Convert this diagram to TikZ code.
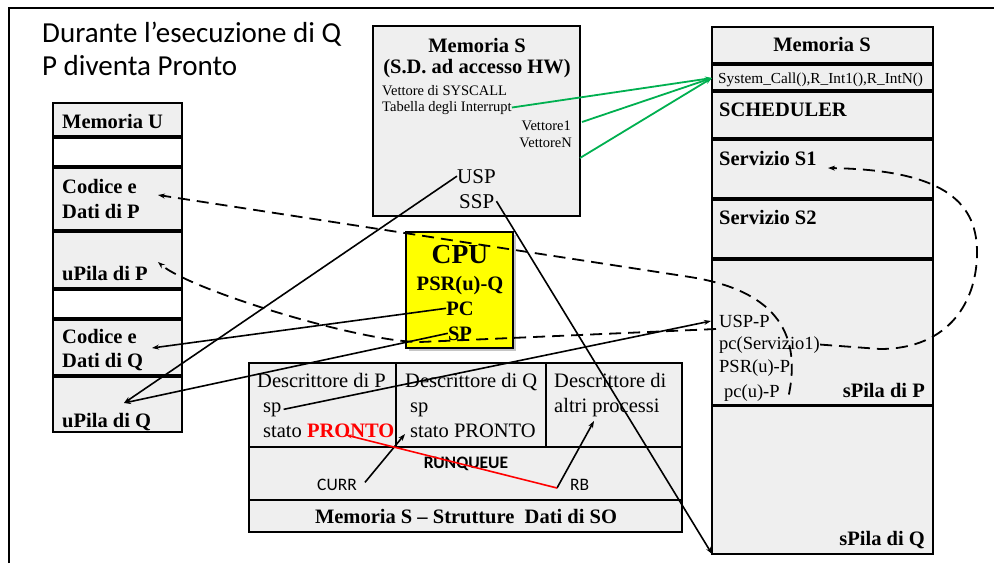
\documentclass[tikz,border=0pt]{standalone}
\usepackage{fontspec}
\setmainfont{Liberation Serif}
\newfontfamily\calib{Carlito}
\usetikzlibrary{arrows.meta}
\definecolor{boxgray}{HTML}{EFEFEF}
\definecolor{grn}{HTML}{00B050}
\definecolor{cpuyel}{HTML}{FFFF00}
\begin{document}
\begin{tikzpicture}[x=1pt,y=-1pt,
  cell/.style={draw, line width=1.6pt, fill=boxgray, inner sep=0pt, outer sep=0pt, anchor=north west},
  txt/.style={inner sep=0pt, anchor=base west},
  bl/.style={font=\fontsize{20.5}{24}\selectfont\bfseries},
  rg/.style={font=\fontsize{20.5}{24}\selectfont},
  sm/.style={font=\fontsize{14.5}{17}\selectfont},
  md/.style={font=\fontsize{18.5}{21}\selectfont},
  cal/.style={font=\calib\fontsize{17.5}{20}\selectfont},
  arr/.style={line width=1.6pt, -{Stealth[length=7pt,width=5pt]}},
  darr/.style={line width=1.8pt, dash pattern=on 12pt off 7pt, -{Stealth[length=7pt,width=5pt]}},
  garr/.style={line width=1.8pt, draw=grn, -{Stealth[length=7pt,width=5pt]}},
  rarr/.style={line width=1.6pt, draw=red, -{Stealth[length=6pt,width=4pt]}}
]
\useasboundingbox (0,0) rectangle (994,563);
\fill[white] (0,0) rectangle (994,563);
% frame
\draw[line width=2pt] (9,563) -- (9,8) -- (994,8);

% title
\node[txt, font=\calib\fontsize{29}{34}\selectfont] (t1) at (42,42) {Durante l’esecuzione di Q};
\node[txt, font=\calib\fontsize{29}{34}\selectfont] (t2) at (42,75) {P diventa Pronto};

% left column: Memoria U
\node[cell, minimum width=129pt, minimum height=33pt] (mu) at (53,103) {};
\node[cell, fill=white, minimum width=129pt, minimum height=28pt] (w1) at (53,138) {};
\node[cell, minimum width=129pt, minimum height=62pt] (codp) at (53,168) {};
\node[cell, minimum width=129pt, minimum height=56pt] (upp) at (53,232) {};
\node[cell, fill=white, minimum width=129pt, minimum height=28pt] (w2) at (53,290) {};
\node[cell, minimum width=129pt, minimum height=55pt] (codq) at (53,320) {};
\node[cell, minimum width=129pt, minimum height=55pt] (upq) at (53,377) {};
\node[txt, bl] (lmu) at (62,128) {Memoria U};
\node[txt, bl] (lcp1) at (62,193) {Codice e};
\node[txt, bl] (lcp2) at (62,218) {Dati di P};
\node[txt, bl] (lup) at (62,280) {uPila di P};
\node[txt, bl] (lcq1) at (62,343) {Codice e};
\node[txt, bl] (lcq2) at (62,367) {Dati di Q};
\node[txt, bl] (luq) at (62,427) {uPila di Q};

% top Memoria S
\node[cell, minimum width=207pt, minimum height=190pt] (mst) at (373,26) {};
\node[inner sep=0pt, anchor=base, bl] (mst1) at (477,52) {Memoria S};
\node[inner sep=0pt, anchor=base, bl] (mst2) at (477,73) {(S.D. ad accesso HW)};
\node[txt, sm] (vsys) at (382,95) {Vettore di SYSCALL};
\node[txt, sm] (tab) at (382,111) {Tabella degli Interrupt};
\node[inner sep=0pt, anchor=base east, sm] (v1) at (571,130) {Vettore1};
\node[inner sep=0pt, anchor=base east, sm] (vn) at (572,147) {VettoreN};
\node[txt, font=\fontsize{21}{24}\selectfont] (usp) at (457,183) {USP};
\node[txt, font=\fontsize{21}{24}\selectfont] (ssp) at (459,208) {SSP};

% CPU
\fill[gray!45] (409,235) rectangle (516,351);
\node[cell, fill=cpuyel, line width=1.9pt, minimum width=107pt, minimum height=116pt] (cpu) at (406,232) {};
\node[inner sep=0pt, anchor=base, font=\fontsize{27.5}{30}\selectfont\bfseries] (cpul) at (460,263) {CPU};
\node[inner sep=0pt, anchor=base, bl] (psrq) at (460,290) {PSR(u)-Q};
\node[inner sep=0pt, anchor=base, bl] (pc) at (460,315) {PC};
\node[inner sep=0pt, anchor=base, bl] (sp) at (460,340) {SP};

% descriptor table
\node[cell, minimum width=147pt, minimum height=84pt] (dp) at (249,363) {};
\node[cell, minimum width=150pt, minimum height=84pt] (dq) at (396,363) {};
\node[cell, minimum width=136pt, minimum height=84pt] (da) at (546,363) {};
\node[cell, minimum width=433pt, minimum height=53pt] (rq) at (249,447) {};
\node[cell, minimum width=433pt, minimum height=32pt] (mss) at (249,500) {};
\node[txt, rg] (dpl) at (257,387) {Descrittore di P};
\node[txt, rg] (spp) at (263,412) {sp};
\node[txt, rg] (stp) at (263,437) {stato \textcolor{red}{\textbf{PRONTO}}};
\node[txt, rg] (dql) at (405,387) {Descrittore di Q};
\node[txt, rg] (spq) at (410,412) {sp};
\node[txt, rg] (stq) at (410,437) {stato PRONTO};
\node[txt, rg] (dal1) at (554,387) {Descrittore di};
\node[txt, rg] (dal2) at (554,412) {altri processi};
\node[inner sep=0pt, anchor=base, font=\calib\bfseries\fontsize{17.5}{20}\selectfont] (rql) at (466,468) {RUNQUEUE};
\node[txt, cal] (curr) at (317,490) {CURR};
\node[txt, cal] (rb) at (570,490) {RB};
\node[inner sep=0pt, anchor=base, bl] (mssl) at (466,523) {Memoria S -- Strutture\ \ Dati di SO};

% right column
\node[cell, minimum width=221pt, minimum height=36pt] (rsh) at (712,27) {};
\node[cell, minimum width=221pt, minimum height=25pt] (rsys) at (712,65) {};
\node[cell, minimum width=221pt, minimum height=46pt] (rsch) at (712,92) {};
\node[cell, minimum width=221pt, minimum height=58pt] (rs1) at (712,140) {};
\node[cell, minimum width=221pt, minimum height=58pt] (rs2) at (712,200) {};
\node[cell, minimum width=221pt, minimum height=145pt] (rsp) at (712,260) {};
\node[cell, minimum width=221pt, minimum height=148pt] (rsq) at (712,406) {};
\node[inner sep=0pt, anchor=base, bl] (rshl) at (822,51) {Memoria S};
\node[txt, font=\fontsize{15.3}{17}\selectfont] (sysl) at (718,83) {System\_Call(),R\_Int1(),R\_IntN()};
\node[txt, bl] (schl) at (719,116) {SCHEDULER};
\node[txt, bl] (s1l) at (719,165) {Servizio S1};
\node[txt, bl] (s2l) at (719,224) {Servizio S2};
\node[txt, md] (uspp) at (719,327) {USP-P};
\node[txt, md] (psv) at (719,349) {pc(Servizio1)};
\node[txt, md] (psrp) at (719,372) {PSR(u)-P};
\node[txt, md] (pcu) at (724,397) {pc(u)-P};
\node[inner sep=0pt, anchor=base east, bl] (spl) at (925,397) {sPila di P};
\node[inner sep=0pt, anchor=base east, bl] (sql) at (925,545) {sPila di Q};

% named end points
\coordinate (codpT) at (158,195);
\coordinate (uppT) at (158,262);
\coordinate (codqT) at (152,348);
\coordinate (upqT) at (124,403);
\coordinate (usppT) at (711,321);
\coordinate (s1T) at (828,168);
\coordinate (sysT) at (712,78);
\coordinate (dqT) at (405,434);
\coordinate (daT) at (594,421);
\coordinate (pronT) at (346,435);
\coordinate (rbS) at (557,488);
\coordinate (v1S) at (582,122);
\coordinate (vnS) at (580,158);
\coordinate (d2S) at (716,329);

% green connectors
\draw[garr] (tab.east) -- (sysT);
\draw[garr] (v1S) -- (sysT);
\draw[garr] (vnS) -- (sysT);

% solid connectors
\draw[arr] (usp.west) -- (upqT);
\draw[arr] ([xshift=2pt]ssp.east) -- (rsq.south west);
\draw[arr] (pc.west) -- (codqT);
\draw[arr] (sp.west) -- (upqT);
\draw[arr] ([xshift=2pt]spp.east) -- (usppT);
\draw[arr] ([xshift=8pt,yshift=2pt]curr.east) -- (dqT);
\draw[arr] (rbS) -- (daT);
\draw[rarr] (rbS) -- (pronT);

% dashed connectors
\draw[darr] ([xshift=9pt,yshift=-2pt]pcu.east) .. controls (802,330) and (772,290) .. (690,277) -- (codpT);
\draw[darr] (d2S) -- (420,342) .. controls (360,342) and (190,290) .. (uppT);
\draw[darr] (psv.east) -- (880,349) .. controls (950,349) and (978,300) .. (977,250) .. controls (976,200) and (940,170) .. (s1T);
\end{tikzpicture}
\end{document}
